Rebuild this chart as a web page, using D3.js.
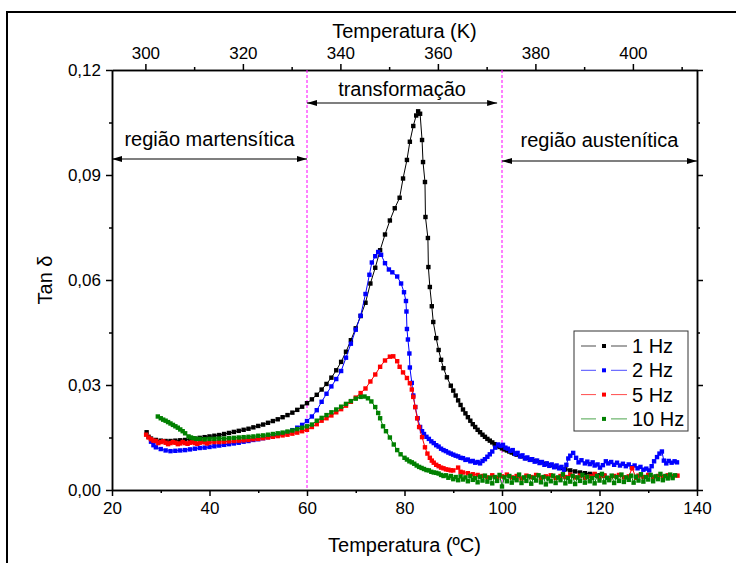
<!DOCTYPE html>
<html>
<head>
<meta charset="utf-8">
<script src="https://cdn.jsdelivr.net/npm/d3@7"></script>
<style>
  body { margin: 0; background: #fff; }
  svg { font-family: "Liberation Sans", Arial, sans-serif; }
  .axis path, .axis line { stroke: #000; stroke-width: 1.5; }
  .axis text { font-size: 17px; fill: #000; }
</style>
</head>
<body>
<div id="chart"></div>
<script>
// tick values
const xTicks = [20, 40, 60, 80, 100, 120, 140];
const xMinor = [30, 50, 70, 90, 110, 130];
const kTicks = [300, 320, 340, 360, 380, 400];
const kMinor = [310, 330, 350, 370, 390, 410];
const yTicks = [0, 0.03, 0.06, 0.09, 0.12];
const yMinor = [0.015, 0.045, 0.075, 0.105];

const seriesNames = ["1 Hz", "2 Hz", "5 Hz", "10 Hz"];
const seriesColors = ["#000000", "#0000ff", "#ff0000", "#008000"];

// [temperatura ºC, tan δ]
const hz1 = [
  [27.1,0.0165],[27.5,0.0152],[28,0.0147],[29,0.0143],[30,0.0141],[31,0.0140],[32,0.0140],[33,0.0141],
  [34,0.0142],[35,0.0143],[36,0.0145],[37,0.0147],[38,0.0149],[39,0.0151],[40,0.0153],[41,0.0155],
  [42,0.0157],[43,0.0160],[44,0.0163],[45,0.0166],[46,0.0169],[47,0.0172],[48,0.0175],[49,0.0179],
  [50,0.0183],[51,0.0187],[52,0.0192],[53,0.0197],[54,0.0202],[55,0.0208],[56,0.0214],[57,0.0221],
  [58,0.0229],[59,0.0238],[60,0.0248],[61,0.0259],[62,0.0272],[63,0.0287],[64,0.0303],[65,0.0321],
  [66,0.0342],[67,0.0366],[68,0.0395],[69,0.0428],[70,0.0462],[71,0.0497],[72,0.0535],[73,0.0590],
  [74,0.0635],[75,0.0685],[76,0.0730],[77,0.0770],[78,0.0805],[79,0.0835],[79.7,0.0890],[80.5,0.0943],
  [81.1,0.0995],[81.8,0.1040],[82.4,0.1070],[82.8,0.1082],[83.2,0.1075],[83.6,0.1000],[83.8,0.0937],
  [84.2,0.0880],[84.3,0.0780],[84.8,0.0720],[84.9,0.0637],[85.2,0.0580],[85.6,0.0525],[85.9,0.0480],
  [86.5,0.0434],[87,0.0400],[87.5,0.0372],[88,0.0348],[88.7,0.0322],[89.5,0.0298],[90,0.0284],
  [90.5,0.0270],[91,0.0256],[91.5,0.0243],[92,0.0230],[92.5,0.0219],[93,0.0208],[93.5,0.0198],
  [94,0.0188],[94.5,0.0180],[95,0.0172],[95.5,0.0165],[96,0.0158],[96.5,0.0152],[97,0.0146],
  [97.5,0.0141],[98,0.0136],[98.5,0.0131],[99,0.0127],[99.5,0.0123],[100,0.0119],[100.5,0.0116],
  [101,0.0113],[101.5,0.0110],[102,0.0107],[102.5,0.0104],[103,0.0101],[104,0.0096],[105,0.0091],
  [106,0.0087],[107,0.0083],[108,0.0079],[109,0.0075],[110,0.0071],[111,0.0067],[112,0.0063],
  [113,0.0059],[114,0.0056],[115,0.0053],[116,0.0050],[117,0.0048],[118,0.0046],[119,0.0044],
  [120,0.0042],[121,0.0041]
];

const hz2 = [
  [28,0.0138],[28.5,0.0128],[29,0.0122],[30,0.0117],[31,0.0113],[32,0.0111],[33,0.0112],[34,0.0113],
  [35,0.0114],[36,0.0116],[37,0.0118],[38,0.0120],[39,0.0121],[40,0.0123],[41,0.0125],[42,0.0127],
  [43,0.0129],[44,0.0131],[45,0.0133],[46,0.0135],[47,0.0138],[48,0.0140],[49,0.0143],[50,0.0145],
  [51,0.0148],[52,0.0151],[53,0.0154],[54,0.0157],[55,0.0161],[56,0.0165],[57,0.0171],[58,0.0178],
  [59,0.0186],[60,0.0197],[61,0.0210],[62,0.0228],[63,0.0252],[64,0.0275],[65,0.0296],[66,0.0317],
  [67,0.0340],[68,0.0378],[69,0.0418],[70,0.0458],[71,0.0498],[72,0.0560],[72.8,0.0615],[73.3,0.0650],
  [74,0.0668],[74.6,0.0680],[75.2,0.0672],[76,0.0648],[76.8,0.0630],[77.5,0.0622],[78.5,0.0610],
  [79.3,0.0590],[79.9,0.0565],[80.3,0.0540],[80.4,0.0510],[80.5,0.0460],[80.7,0.0430],[81.0,0.0390],
  [81.1,0.0350],[81.5,0.0306],[81.8,0.0270],[82.2,0.0237],[82.7,0.0205],[83.2,0.0180],[83.6,0.0168],
  [84,0.0160],[84.5,0.0152],[85,0.0146],[85.5,0.0139],[86,0.0134],[86.5,0.0128],[87,0.0124],
  [87.5,0.0118],[88,0.0114],[88.5,0.0111],[89,0.0107],[89.5,0.0104],[90,0.0101],[90.5,0.0098],
  [91,0.0096],[91.5,0.0092],[92,0.0091],[92.5,0.0086],[93,0.0087],[93.5,0.0082],[94,0.0083],
  [94.5,0.0078],[95,0.0080],[95.5,0.0076],[96,0.0083],[96.5,0.0088],[97,0.0095],[97.5,0.0102],
  [98,0.0110],[98.6,0.0121],[99.2,0.0130],[99.7,0.0126],[100.2,0.0129],[100.7,0.0121],[101.2,0.0118],
  [101.7,0.0112],[102.2,0.0114],[102.7,0.0103],[103.2,0.0106],[103.7,0.0096],[104.2,0.0099],
  [104.7,0.0090],[105.2,0.0093],[105.7,0.0086],[106.2,0.0088],[106.7,0.0081],[107.2,0.0084],
  [107.7,0.0077],[108.2,0.0080],[108.7,0.0072],[109.2,0.0076],[109.7,0.0069],[110.2,0.0073],
  [110.7,0.0065],[111.2,0.0070],[111.7,0.0062],[112.2,0.0066],[112.7,0.0058],[113.2,0.0072],
  [113.6,0.0090],[114,0.0098],[114.6,0.0106],[115.2,0.0092],[115.7,0.0079],[116.3,0.0085],
  [117,0.0076],[117.5,0.0081],[118,0.0074],[118.6,0.0079],[119,0.0070],[119.6,0.0073],[120.1,0.0064],
  [120.7,0.0071],[121.3,0.0082],[121.8,0.0076],[122.4,0.0080],[123,0.0072],[123.6,0.0078],
  [124.2,0.0070],[124.8,0.0075],[125.4,0.0068],[126,0.0073],[126.6,0.0065],[127.2,0.0070],
  [127.8,0.0062],[128.4,0.0066],[129,0.0058],[129.6,0.0061],[130.2,0.0056],[130.7,0.0068],
  [131.2,0.0082],[131.8,0.0094],[132.3,0.0104],[132.8,0.0110],[133.2,0.0084],[133.7,0.0076],
  [134.2,0.0083],[134.8,0.0078],[135.4,0.0082],[135.9,0.0079]
];

const hz5 = [
  [27,0.0158],[27.5,0.0150],[28,0.0145],[28.5,0.0141],[29,0.0140],[29.5,0.0134],[30,0.0137],
  [30.5,0.0139],[31,0.0135],[31.5,0.0131],[32,0.0134],[32.5,0.0137],[33,0.0135],[33.5,0.0131],
  [34,0.0133],[34.5,0.0137],[35,0.0134],[35.5,0.0132],[36,0.0135],[36.5,0.0137],[37,0.0134],
  [37.5,0.0132],[38,0.0135],[38.5,0.0138],[39,0.0136],[39.5,0.0133],[40,0.0136],[41,0.0137],
  [42,0.0137],[43,0.0138],[44,0.0139],[45,0.0140],[46,0.0141],[47,0.0142],[48,0.0143],[49,0.0145],
  [50,0.0146],[51,0.0148],[52,0.0150],[53,0.0152],[54,0.0154],[55,0.0156],[56,0.0158],[57,0.0161],
  [58,0.0164],[59,0.0168],[60,0.0172],[61,0.0180],[62,0.0188],[63,0.0198],[64,0.0205],[65,0.0213],
  [66,0.0222],[67,0.0231],[68,0.0241],[69,0.0252],[70,0.0264],[71,0.0277],[72,0.0290],[73,0.0310],
  [74,0.0330],[75,0.0352],[76,0.0370],[77,0.0381],[77.7,0.0382],[78.5,0.0368],[79,0.0352],
  [79.7,0.0336],[80.5,0.0320],[81.1,0.0305],[81.5,0.0287],[81.8,0.0266],[82.2,0.0237],[82.6,0.0205],
  [83,0.0180],[83.6,0.0151],[84.2,0.0122],[84.7,0.0104],[85.2,0.0092],[85.6,0.0084],[86,0.0078],
  [86.5,0.0072],[87,0.0068],[87.5,0.0064],[88,0.0062],[88.5,0.0059],[89,0.0058],[89.5,0.0056],
  [90,0.0056],[91,0.0064],[91.5,0.0052],[92,0.0050],[93,0.0048],[94,0.0045],[95,0.0043],[96,0.0040],
  [97,0.0036],[98,0.0042],[99,0.0035],[100,0.0039],[101,0.0044],[102,0.0036],[103,0.0040],
  [104,0.0033],[105,0.0041],[106,0.0037],[107,0.0043],[108,0.0035],[109,0.0039],[110,0.0042],
  [111,0.0034],[112,0.0040],[113,0.0037],[114,0.0044],[115,0.0036],[116,0.0041],[117,0.0035],
  [118,0.0039],[119,0.0046],[120,0.0037],[121,0.0041],[122,0.0034],[123,0.0040],[124,0.0043],
  [125,0.0036],[126,0.0039],[126.7,0.0062],[127.5,0.0035],[128,0.0041],[129,0.0037],[130,0.0043],
  [131,0.0036],[132,0.0040],[133,0.0038],[134,0.0042],[135,0.0039],[136,0.0041]
];

const hz10 = [
  [29.4,0.0210],[30,0.0205],[30.5,0.0201],[31,0.0198],[31.5,0.0194],[32,0.0190],[32.5,0.0186],
  [33,0.0182],[33.5,0.0178],[34,0.0173],[34.5,0.0168],[35,0.0162],[35.7,0.0153],[36.2,0.0150],
  [36.7,0.0148],[37.3,0.0146],[38,0.0146],[39,0.0145],[40,0.0146],[41,0.0146],[42,0.0147],[43,0.0147],
  [44,0.0148],[45,0.0149],[46,0.0150],[47,0.0151],[48,0.0152],[49,0.0153],[50,0.0155],[51,0.0156],
  [52,0.0158],[53,0.0160],[54,0.0162],[55,0.0164],[56,0.0167],[57,0.0170],[58,0.0174],[59,0.0178],
  [60,0.0182],[61,0.0187],[62,0.0198],[63,0.0206],[64,0.0214],[65,0.0222],[66,0.0230],[67,0.0238],
  [68,0.0246],[69,0.0254],[70,0.0261],[71,0.0266],[71.8,0.0267],[72.5,0.0262],[73.2,0.0253],
  [74,0.0237],[74.6,0.0220],[75,0.0205],[75.6,0.0182],[76.2,0.0168],[77,0.0150],[77.8,0.0130],
  [78.5,0.0114],[79.2,0.0102],[80,0.0092],[80.5,0.0087],[81,0.0082],[81.5,0.0079],[82,0.0075],
  [82.5,0.0070],[83,0.0066],[83.5,0.0063],[84,0.0060],[84.5,0.0057],[85,0.0056],[85.5,0.0052],
  [86,0.0050],[86.5,0.0049],[87,0.0047],[87.5,0.0043],[88,0.0040],[88.5,0.0042],[89,0.0035],[89.5,0.0040],
  [90,0.0031],[90.5,0.0037],[91,0.0028],[91.5,0.0039],[92,0.0030],[92.5,0.0036],[93,0.0025],
  [93.5,0.0040],[94,0.0029],[94.5,0.0034],[95,0.0022],[95.5,0.0038],[96,0.0027],[96.5,0.0041],
  [97,0.0024],[97.5,0.0035],[98,0.0019],[98.5,0.0037],[99,0.0026],[99.5,0.0043],[100,0.0010],
  [100.5,0.0036],[101,0.0025],[101.5,0.0040],[102,0.0021],[102.5,0.0034],[103,0.0028],[103.5,0.0044],
  [104,0.0020],[104.5,0.0036],[105,0.0026],[105.5,0.0039],[106,0.0018],[106.5,0.0035],[107,0.0027],
  [107.5,0.0042],[108,0.0022],[108.5,0.0037],[109,0.0016],[109.5,0.0033],[110,0.0025],[110.5,0.0041],
  [111,0.0020],[111.5,0.0036],[112,0.0028],[112.5,0.0045],[113,0.0019],[113.5,0.0034],[114,0.0024],
  [114.5,0.0040],[115,0.0017],[115.5,0.0036],[116,0.0026],[116.5,0.0043],[117,0.0021],[117.5,0.0038],
  [118,0.0025],[118.5,0.0034],[119,0.0019],[119.5,0.0040],[120,0.0027],[120.5,0.0046],[121,0.0022],
  [121.5,0.0035],[122,0.0028],[122.5,0.0041],[123,0.0020],[123.5,0.0037],[124,0.0026],[124.5,0.0044],
  [125,0.0023],[125.5,0.0036],[126,0.0029],[126.5,0.0041],[127,0.0021],[127.5,0.0038],[128,0.0027],
  [128.5,0.0045],[129,0.0024],[129.5,0.0037],[130,0.0030],[130.5,0.0043],[131,0.0025],[131.5,0.0039],
  [132,0.0031],[132.5,0.0046],[133,0.0028],[133.5,0.0040],[134,0.0033],[134.5,0.0044],[135,0.0034],
  [135.5,0.0042]
];

const allSeries = [hz1, hz2, hz5, hz10];

const margin = { top: 70, right: 39, bottom: 73, left: 112 },
  width = 736 - margin.left - margin.right,
  height = 563 - margin.top - margin.bottom;

const root = d3.select("#chart")
  .append("svg")
  .attr("width", 736)
  .attr("height", 563);

// outer frame (left and top edges visible)
root.append("path")
  .attr("d", "M7,563V12H736")
  .attr("fill", "none")
  .attr("stroke", "#000")
  .attr("stroke-width", 2);

const svg = root.append("g")
  .attr("transform", `translate(${margin.left},${margin.top})`);

const x = d3.scaleLinear().domain([20, 140]).range([0, width]);
const xK = d3.scaleLinear().domain([20 + 273.15, 140 + 273.15]).range([0, width]);
const y = d3.scaleLinear().domain([0, 0.12]).range([height, 0]);

const fmt = d => d3.format(".2f")(d).replace(".", ",");

// minor ticks
svg.append("g").attr("class", "axis")
  .attr("transform", `translate(0,${height})`)
  .call(d3.axisBottom(x).tickValues(xMinor).tickSize(3).tickSizeOuter(0).tickFormat(""));
svg.append("g").attr("class", "axis")
  .call(d3.axisTop(xK).tickValues(kMinor).tickSize(3).tickSizeOuter(0).tickFormat(""));
svg.append("g").attr("class", "axis")
  .call(d3.axisLeft(y).tickValues(yMinor).tickSize(3).tickSizeOuter(0).tickFormat(""));
svg.append("g").attr("class", "axis")
  .attr("transform", `translate(${width},0)`)
  .call(d3.axisRight(y).tickValues(yMinor).tickSize(3).tickSizeOuter(0).tickFormat(""));

// major ticks
svg.append("g").attr("class", "axis")
  .attr("transform", `translate(0,${height})`)
  .call(d3.axisBottom(x).tickValues(xTicks).tickSize(6).tickSizeOuter(0).tickPadding(6));
svg.append("g").attr("class", "axis")
  .call(d3.axisTop(xK).tickValues(kTicks).tickSize(6).tickSizeOuter(0).tickPadding(5).tickFormat(d3.format("d")));
svg.append("g").attr("class", "axis")
  .call(d3.axisLeft(y).tickValues(yTicks).tickSize(6).tickSizeOuter(0).tickPadding(5).tickFormat(fmt));
svg.append("g").attr("class", "axis")
  .attr("transform", `translate(${width},0)`)
  .call(d3.axisRight(y).tickValues(yTicks).tickSize(6).tickSizeOuter(0).tickFormat(""));

// axis titles
svg.append("text")
  .attr("x", width / 2).attr("y", height + 62)
  .attr("text-anchor", "middle").attr("font-size", 20)
  .text("Temperatura (ºC)");
svg.append("text")
  .attr("x", width / 2).attr("y", -32)
  .attr("text-anchor", "middle").attr("font-size", 20)
  .text("Temperatura (K)");
svg.append("text")
  .attr("transform", `translate(-60,${height / 2}) rotate(-90)`)
  .attr("text-anchor", "middle").attr("font-size", 20)
  .text("Tan δ");

// transformation boundaries
[60, 100].forEach(t => {
  svg.append("line")
    .attr("x1", x(t)).attr("x2", x(t))
    .attr("y1", 0).attr("y2", height)
    .attr("stroke", "#ff00ff")
    .attr("stroke-width", 1)
    .attr("stroke-dasharray", "3,2");
});

// arrows
const defs = root.append("defs");
defs.append("marker")
  .attr("id", "arrow")
  .attr("viewBox", "0 0 10 6")
  .attr("refX", 10).attr("refY", 3)
  .attr("markerWidth", 12).attr("markerHeight", 6)
  .attr("markerUnits", "userSpaceOnUse")
  .attr("orient", "auto-start-reverse")
  .append("path")
  .attr("d", "M0,0L10,3L0,6Z")
  .attr("fill", "#000");

const regions = [
  { label: "região martensítica", from: 20, to: 60, yArrow: 89, yText: 76 },
  { label: "transformação", from: 60, to: 99, yArrow: 33, yText: 26 },
  { label: "região austenítica", from: 100, to: 140, yArrow: 91, yText: 77 }
];

regions.forEach(r => {
  svg.append("line")
    .attr("x1", x(r.from)).attr("x2", x(r.to))
    .attr("y1", r.yArrow).attr("y2", r.yArrow)
    .attr("stroke", "#000").attr("stroke-width", 1.2)
    .attr("marker-start", "url(#arrow)")
    .attr("marker-end", "url(#arrow)");
  svg.append("text")
    .attr("x", (x(r.from) + x(r.to)) / 2)
    .attr("y", r.yText)
    .attr("text-anchor", "middle")
    .attr("font-size", 20)
    .text(r.label);
});

// data
const line = d3.line()
  .x(d => x(d[0]))
  .y(d => y(d[1]));

allSeries.forEach((s, i) => {
  const g = svg.append("g");
  g.append("path")
    .attr("d", line(s))
    .attr("fill", "none")
    .attr("stroke", seriesColors[i])
    .attr("stroke-width", 1);
  g.selectAll("rect")
    .data(s)
    .join("rect")
    .attr("x", d => x(d[0]) - 2.2)
    .attr("y", d => y(d[1]) - 2.2)
    .attr("width", 4.4)
    .attr("height", 4.4)
    .attr("fill", seriesColors[i]);
});

// legend
const legend = root.append("g")
  .attr("transform", "translate(574,331)");

legend.append("rect")
  .attr("width", 114).attr("height", 100)
  .attr("fill", "#fff")
  .attr("stroke", "#333").attr("stroke-width", 1);

seriesNames.forEach((name, i) => {
  const row = legend.append("g")
    .attr("transform", `translate(0,${15 + i * 24.3})`);
  row.append("line")
    .attr("x1", 7).attr("x2", 22)
    .attr("stroke", seriesColors[i]).attr("stroke-width", 1).attr("opacity", 0.7);
  row.append("line")
    .attr("x1", 37).attr("x2", 53)
    .attr("stroke", seriesColors[i]).attr("stroke-width", 1).attr("opacity", 0.7);
  row.append("rect")
    .attr("x", 28).attr("y", -2)
    .attr("width", 4).attr("height", 4)
    .attr("fill", seriesColors[i]);
  row.append("text")
    .attr("x", 58).attr("y", 7)
    .attr("font-size", 20)
    .text(name);
});
</script>
</body>
</html>
